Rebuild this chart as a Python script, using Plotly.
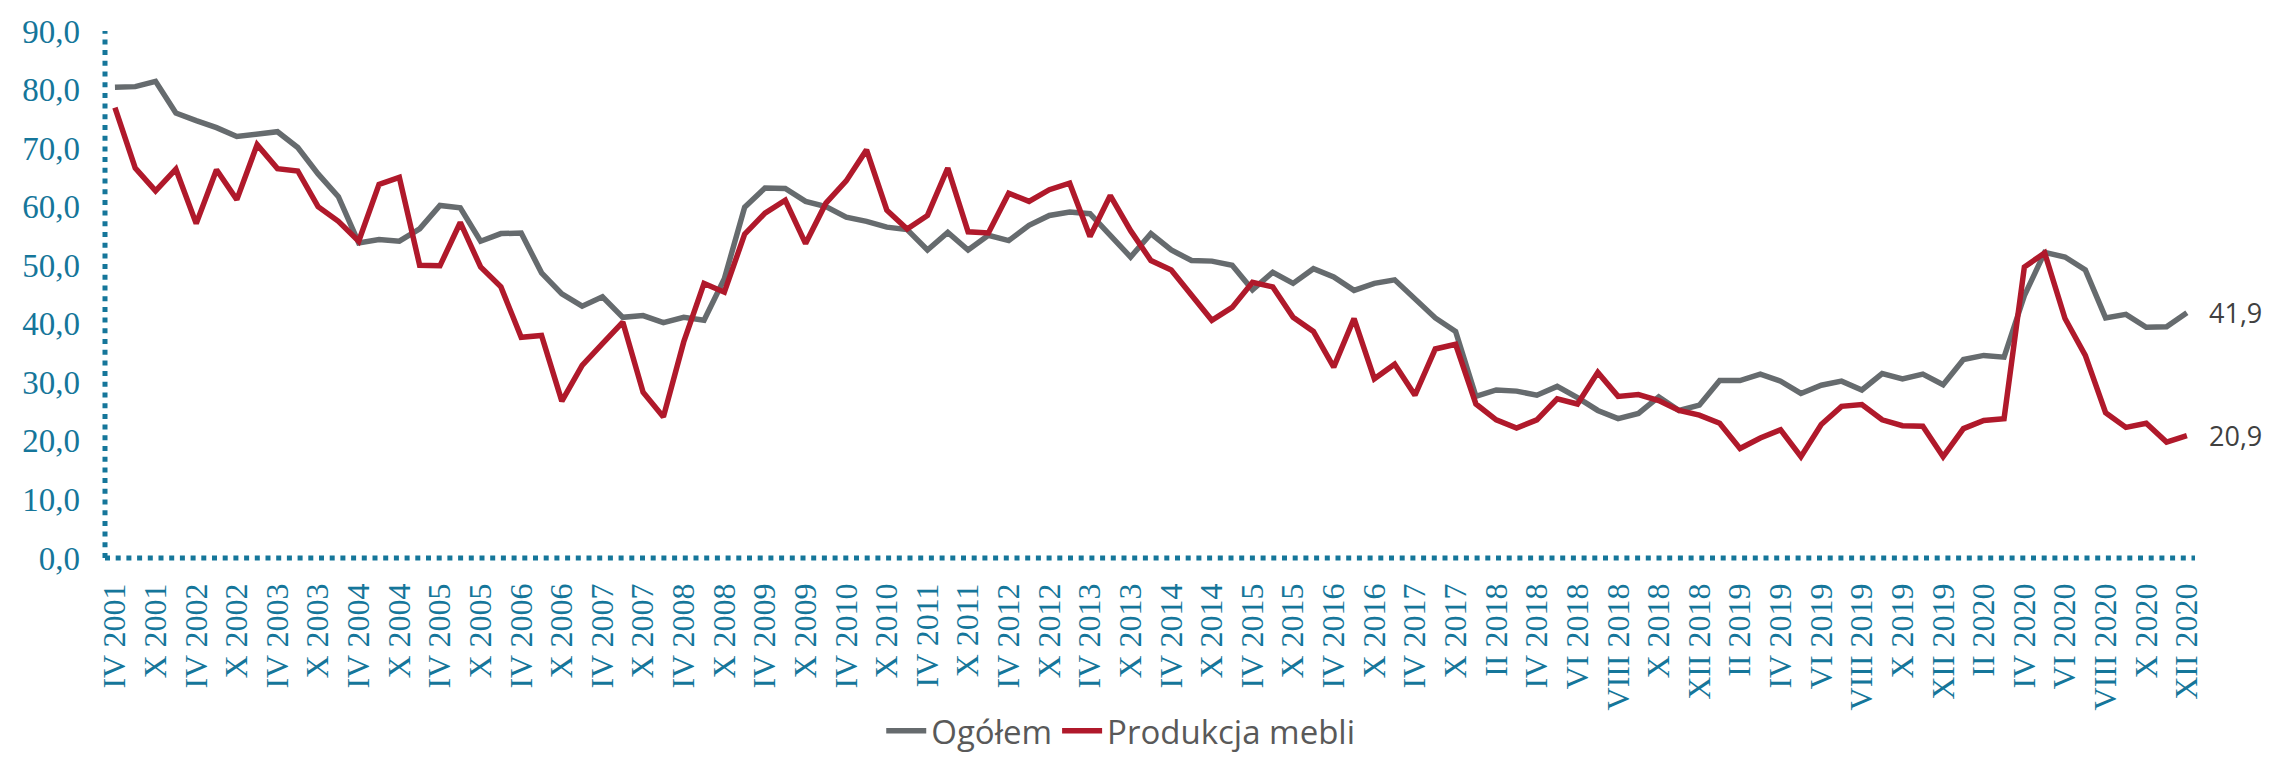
import plotly.graph_objects as go

# Period labels: quarterly up to X 2017, monthly from I 2018
ROMAN = ["I", "II", "III", "IV", "V", "VI", "VII", "VIII", "IX", "X", "XI", "XII"]
QUARTER_MONTHS = ["I", "IV", "VII", "X"]

periods = ["IV 2001", "VII 2001", "X 2001"]
for year in range(2002, 2018):
    periods += [f"{m} {year}" for m in QUARTER_MONTHS]
for year in range(2018, 2021):
    periods += [f"{m} {year}" for m in ROMAN]

ogolem = [
    80.4, 80.5, 81.4, 76.0, 74.7, 73.5, 72.0, 72.3, 72.8, 70.1,
    65.6, 61.7, 53.8, 54.4, 54.1, 56.2, 60.2, 59.8, 54.1, 55.4,
    55.5, 48.7, 45.1, 43.0, 44.6, 41.1, 41.4, 40.2, 41.1, 40.6,
    47.7, 59.9, 63.2, 63.1, 60.9, 60.0, 58.2, 57.5, 56.5, 56.1,
    52.6, 55.6, 52.6, 55.1, 54.2, 56.8, 58.5, 59.1, 58.8, 55.1,
    51.4, 55.4, 52.6, 50.8, 50.7, 50.0, 45.8, 48.8, 46.9, 49.4,
    48.0, 45.7, 46.9, 47.5, 44.3, 41.0, 38.7, 27.6, 28.7, 28.5,
    27.8, 29.3, 27.4, 25.2, 23.8, 24.7, 27.5, 25.2, 26.1, 30.3,
    30.3, 31.4, 30.2, 28.1, 29.5, 30.2, 28.7, 31.5, 30.6, 31.4,
    29.6, 33.9, 34.6, 34.3, 44.8, 52.2, 51.4, 49.2, 41.0, 41.6,
    39.4, 39.5, 41.9,
]

meble = [
    76.9, 66.6, 62.7, 66.4, 57.1, 66.3, 61.2, 70.6, 66.5, 66.1,
    60.0, 57.5, 54.1, 63.8, 65.0, 50.0, 49.9, 57.3, 49.7, 46.3,
    37.7, 38.0, 26.8, 32.9, 36.6, 40.3, 28.3, 24.1, 36.9, 46.9,
    45.4, 55.3, 58.9, 61.1, 53.7, 60.6, 64.4, 69.7, 59.4, 56.2,
    58.5, 66.6, 55.7, 55.5, 62.3, 60.9, 62.9, 64.0, 54.9, 61.9,
    55.9, 50.8, 49.2, 44.8, 40.6, 42.8, 47.1, 46.3, 41.1, 38.7,
    32.6, 40.9, 30.6, 33.1, 27.8, 35.7, 36.5, 26.3, 23.6, 22.2,
    23.6, 27.2, 26.3, 31.7, 27.6, 27.9, 26.9, 25.2, 24.4, 23.0,
    18.7, 20.5, 21.9, 17.3, 22.8, 25.9, 26.2, 23.6, 22.6, 22.5,
    17.3, 22.1, 23.5, 23.8, 49.7, 52.1, 40.9, 34.6, 24.8, 22.3,
    23.0, 19.8, 20.9,
]

series_names = ["Ogółem", "Produkcja mebli"]
y_ticks = [0, 10, 20, 30, 40, 50, 60, 70, 80, 90]

GRAY = "#666b6e"
RED = "#b0192b"
TEAL = "#15769a"

fig = go.Figure()
fig.add_trace(go.Scatter(x=periods, y=ogolem, mode="lines", name=series_names[0],
                         line=dict(color=GRAY, width=5.5)))
fig.add_trace(go.Scatter(x=periods, y=meble, mode="lines", name=series_names[1],
                         line=dict(color=RED, width=5.5)))

# End-of-series value labels
for vals in (ogolem, meble):
    fig.add_annotation(x=periods[-1], y=vals[-1], text=f"{vals[-1]:.1f}".replace(".", ","),
                       showarrow=False, xanchor="left", yanchor="middle", xshift=20,
                       font=dict(family="Open Sans", size=27, color="#404040"))

# Dotted axis lines
dot = dict(color=TEAL, width=5, dash="5px,5.7px")
fig.add_shape(type="line", xref="paper", yref="paper", x0=0, x1=0, y0=0, y1=1, line=dot)
fig.add_shape(type="line", xref="paper", yref="paper", x0=0, x1=1, y0=0, y1=0, line=dot)

fig.update_layout(
    width=2269, height=757,
    margin=dict(l=105, r=74, t=31, b=199, autoexpand=False),
    paper_bgcolor="white", plot_bgcolor="white",
    separators=", ",
    showlegend=True,
    legend=dict(orientation="h", x=0.486, xanchor="center", y=-0.328, yanchor="middle",
                font=dict(family="Open Sans", size=33, color="#595959"),
                itemwidth=40, tracegroupgap=0),
    xaxis=dict(type="category", range=[-0.49, 102.4],
               tickmode="array", tickvals=periods[::2], ticktext=periods[::2],
               tickangle=-90, showgrid=False, zeroline=False, showline=False,
               ticks="", ticklabelstandoff=18, automargin=False,
               tickfont=dict(family="Liberation Serif", size=32, color=TEAL)),
    yaxis=dict(range=[0, 90], tickmode="array", tickvals=y_ticks, tickformat=".1f",
               showgrid=False, zeroline=False, showline=False, ticks="",
               ticklabelstandoff=24, automargin=False,
               tickfont=dict(family="Liberation Serif", size=33, color=TEAL)),
)

fig.write_html("out.html")
